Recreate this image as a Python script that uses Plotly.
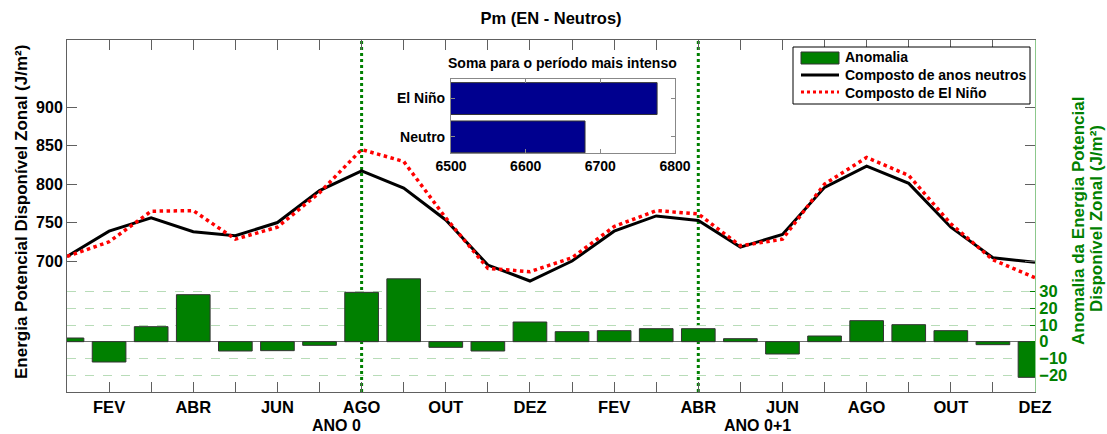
import plotly.graph_objects as go

months = list(range(1, 25))
tick_months = [2, 4, 6, 8, 10, 12, 14, 16, 18, 20, 22, 24]
tick_labels = ["FEV", "ABR", "JUN", "AGO", "OUT", "DEZ",
               "FEV", "ABR", "JUN", "AGO", "OUT", "DEZ"]

neutros = [706, 738.8, 756, 738, 732.8, 750, 791.4, 817.2,
           794.8, 753.4, 694.8, 674.1, 700, 738.8, 758.6, 752.6,
           718.1, 734.5, 795.7, 823.3, 800.9, 744, 704.3, 698.3]
el_nino = [706, 725, 764.7, 765.5, 728.4, 744, 788.8, 844.8,
           829.3, 756, 690.5, 686.2, 704.3, 744.8, 765.5, 761.2,
           719.8, 728.4, 800, 834.5, 811.2, 748.3, 701.7, 678.4]
anomalia = [2.2, -12.2, 9.0, 28.2, -5.6, -5.4, -2.2, 29.6,
            37.7, -3.4, -5.6, 11.8, 6.0, 6.6, 7.8, 7.8,
            1.8, -7.4, 3.4, 12.6, 10.2, 6.6, -1.8, -21.4]

inset_cats = ["Neutro", "El Niño"]
inset_vals = [6679.5, 6776]

vlines = [8, 16]
year_labels = ["ANO 0", "ANO 0+1"]
year_label_x = [7.4, 17.4]

legend_names = ["Anomalia", "Composto de anos neutros", "Composto de El Niño"]

GREEN = "#008000"
RED = "#FF0000"
NAVY = "#00008F"
FONT = "Liberation Sans"
AXC = "#606060"

# plot area in pixels (for legend/annotation placement helpers)
L, R, T, B = 67, 1035, 40, 392


def px(xp):
    return (xp - L) / (R - L)


def py(yp):
    return (B - yp) / (B - T)


fig = go.Figure()

fig.add_trace(go.Bar(
    x=months, y=anomalia, yaxis="y2", width=0.8,
    marker=dict(color=GREEN, line=dict(color="#333333", width=1)),
    name=legend_names[0], showlegend=False))
fig.add_trace(go.Scatter(
    x=months, y=neutros, mode="lines",
    line=dict(color="black", width=3), name=legend_names[1], showlegend=False))
fig.add_trace(go.Scatter(
    x=months, y=el_nino, mode="lines",
    line=dict(color=RED, width=3.5, dash="dot"), name=legend_names[2], showlegend=False))

fig.add_trace(go.Bar(
    x=inset_vals, y=inset_cats, orientation="h", xaxis="x3", yaxis="y3",
    width=0.83,
    marker=dict(color=NAVY, line=dict(color="#333333", width=1)),
    showlegend=False))

for v in vlines:
    fig.add_shape(type="line", xref="x", yref="paper", x0=v, x1=v, y0=0, y1=1,
                  line=dict(color=GREEN, width=3, dash="dot"), layer="below")

# custom legend (box + samples)
fig.add_shape(type="rect", xref="paper", yref="paper",
              x0=px(793), x1=px(1030), y0=py(104), y1=py(47),
              line=dict(color="black", width=1), fillcolor="white", layer="above")
fig.add_shape(type="rect", xref="paper", yref="paper",
              x0=px(801), x1=px(839), y0=py(64), y1=py(52),
              line=dict(color="#333333", width=1), fillcolor=GREEN, layer="above")
fig.add_shape(type="line", xref="paper", yref="paper",
              x0=px(801), x1=px(839), y0=py(75), y1=py(75),
              line=dict(color="black", width=3), layer="above")
fig.add_shape(type="line", xref="paper", yref="paper",
              x0=px(801), x1=px(839), y0=py(92), y1=py(92),
              line=dict(color=RED, width=3, dash="dot"), layer="above")

annotations = []
for name, yy in zip(legend_names, [57, 75, 93]):
    annotations.append(dict(text=name, x=px(843), y=py(yy), xref="paper", yref="paper",
                            showarrow=False, xanchor="left", yanchor="middle",
                            font=dict(family=FONT, size=14, color="black", weight="bold")))

for lbl, xv in zip(year_labels, year_label_x):
    annotations.append(dict(text=lbl, x=xv, y=py(425), xref="x", yref="paper",
                            showarrow=False, xanchor="center", yanchor="middle",
                            font=dict(family=FONT, size=16, color="black", weight="bold")))
annotations.append(dict(text="Energia Potencial Disponível Zonal (J/m²)",
                        x=px(21), y=py(212), xref="paper", yref="paper", textangle=-90,
                        showarrow=False, xanchor="center", yanchor="middle",
                        font=dict(family=FONT, size=17, color="black", weight="bold")))
annotations.append(dict(text="Anomalia da Energia Potencial",
                        x=px(1078), y=py(221), xref="paper", yref="paper", textangle=-90,
                        showarrow=False, xanchor="center", yanchor="middle",
                        font=dict(family=FONT, size=17, color=GREEN, weight="bold")))
annotations.append(dict(text="Disponível Zonal (J/m²)",
                        x=px(1096), y=py(219), xref="paper", yref="paper", textangle=-90,
                        showarrow=False, xanchor="center", yanchor="middle",
                        font=dict(family=FONT, size=17, color=GREEN, weight="bold")))
annotations.append(dict(text="Soma para o período mais intenso",
                        x=px(562), y=py(63), xref="paper", yref="paper",
                        showarrow=False, xanchor="center", yanchor="middle",
                        font=dict(family=FONT, size=14, color="black", weight="bold")))

fig.update_layout(
    width=1107, height=434,
    margin=dict(l=L, r=1107 - R, t=T, b=434 - B),
    paper_bgcolor="white", plot_bgcolor="white",
    font=dict(family=FONT, color="black"),
    title=dict(text="Pm (EN - Neutros)", x=0.5, xref="paper", xanchor="center",
               y=1 - 18 / 434, yanchor="middle",
               font=dict(family=FONT, size=16.5, color="black", weight="bold")),
    barmode="overlay",
    showlegend=False,
    xaxis=dict(range=[1, 24], tickmode="array", tickvals=tick_months, ticktext=tick_labels,
               ticks="inside", ticklen=10, tickcolor=AXC, showline=True, linecolor=AXC,
               mirror="allticks", showgrid=False, zeroline=False,
               minor=dict(ticks="inside", ticklen=5, tickcolor=AXC, tick0=1, dtick=1, showgrid=False),
               tickfont=dict(family=FONT, size=16.5, color="black", weight="bold")),
    yaxis=dict(range=[530, 987], tickvals=[700, 750, 800, 850, 900],
               ticks="inside", ticklen=10, tickcolor=AXC, showline=True, linecolor=AXC,
               mirror="ticks", showgrid=False, zeroline=False,
               tickfont=dict(family=FONT, size=16, color="black", weight="bold")),
    yaxis2=dict(range=[-30.2, 181], overlaying="y", side="right",
                tickvals=[-20, -10, 0, 10, 20, 30],
                ticks="inside", ticklen=5, tickcolor=GREEN, showline=True, linecolor="#8cc88c",
                showgrid=True, gridcolor="#b8dcb8", griddash="dash", gridwidth=1,
                zeroline=True, zerolinecolor="#707070", zerolinewidth=1,
                tickfont=dict(family=FONT, size=16.5, color=GREEN, weight="bold")),
    xaxis3=dict(domain=[px(451), px(675)], anchor="y3", range=[6500, 6800],
                tickvals=[6500, 6600, 6700, 6800], ticks="inside", ticklen=4,
                tickcolor="#888888", showline=True, linecolor="#888888", mirror="ticks",
                showgrid=False, zeroline=False,
                tickfont=dict(family=FONT, size=14, color="black", weight="bold")),
    yaxis3=dict(domain=[py(153), py(79)], anchor="x3", range=[-0.42, 1.51],
                ticks="inside", ticklen=4, tickcolor="#888888", showline=True,
                linecolor="#888888", mirror="ticks", showgrid=False, zeroline=False,
                ticklabelstandoff=2,
                tickfont=dict(family=FONT, size=14, color="black", weight="bold")),
    annotations=annotations,
)

fig.write_html("out.html")
